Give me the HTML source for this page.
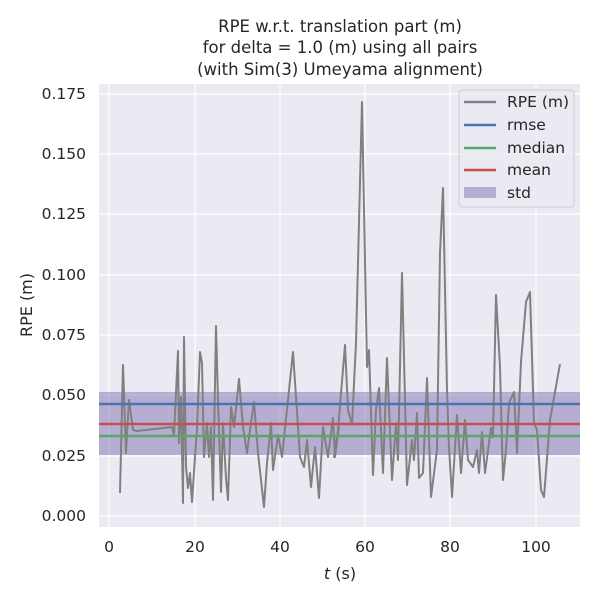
<!DOCTYPE html>
<html><head><style>body{margin:0;background:#fff}</style></head><body>
<svg width="600" height="600" xmlns="http://www.w3.org/2000/svg" font-family="DejaVu Sans, Liberation Sans, sans-serif">
<rect x="99" y="84" width="481" height="443" fill="#EAEAF2"/>
<g stroke="#fff" stroke-width="1.2">
<line x1="109" y1="84" x2="109" y2="527"/><line x1="195" y1="84" x2="195" y2="527"/><line x1="280" y1="84" x2="280" y2="527"/><line x1="365" y1="84" x2="365" y2="527"/><line x1="450" y1="84" x2="450" y2="527"/><line x1="536" y1="84" x2="536" y2="527"/>
<line x1="99" y1="516" x2="580" y2="516"/><line x1="99" y1="456" x2="580" y2="456"/><line x1="99" y1="395" x2="580" y2="395"/><line x1="99" y1="335" x2="580" y2="335"/><line x1="99" y1="275" x2="580" y2="275"/><line x1="99" y1="214" x2="580" y2="214"/><line x1="99" y1="154" x2="580" y2="154"/><line x1="99" y1="94" x2="580" y2="94"/>
</g>
<rect x="99" y="392" width="481" height="63" fill="#8172B2" fill-opacity="0.5"/>
<polyline fill="none" stroke="#808080" stroke-width="2" stroke-linejoin="round" points="120,493 123,365 126,453 129,400 133,430 137,431 172,427 174,435 178,351 179,443 181,397 183,503 184,337 186,467 188,488 190,473 192,502 197,427 200,352 202,363 204,457 207,423 209,457 211,427 213,500 216,326 218,400 221,492 223,423 226,478 228,500 231,407 234,427 239,379 243,427 247,453 250,430 254,402 258,453 264,507 267,463 271,423 273,470 278,435 282,457 293,352 300,457 304,467 307,440 311,487 315,447 319,498 323,427 328,457 333,418 335,457 339,427 334,457 338,430 345,345 348,410 352,425 356,343 362,102 367,367 369,350 373,475 376,410 379,388 383,473 387,358 392,480 396,423 398,460 402,273 407,485 412,440 414,460 417,413 419,478 423,473 427,378 431,497 437,450 440,253 443,188 447,390 449,447 452,497 457,415 461,473 465,420 468,460 473,467 477,450 479,473 482,432 485,473 491,428 493,437 496,295 500,367 503,480 506,450 509,403 514,392 517,453 521,362 526,302 530,292 534,423 537,430 541,490 544,497 550,420 560,364"/>
<line x1="99" y1="404" x2="580" y2="404" stroke="#4C72B0" stroke-width="2.5"/>
<line x1="99" y1="424" x2="580" y2="424" stroke="#C44E52" stroke-width="2.5"/>
<line x1="99" y1="436" x2="580" y2="436" stroke="#55A868" stroke-width="2.5"/>
<rect x="459" y="90" width="115" height="117" rx="3" fill="#EAEAF2" fill-opacity="0.8" stroke="#ccc"/>
<g stroke-width="2.5"><line x1="464" y1="102" x2="496" y2="102" stroke="#808080"/><line x1="464" y1="125" x2="496" y2="125" stroke="#4C72B0"/><line x1="464" y1="148" x2="496" y2="148" stroke="#55A868"/><line x1="464" y1="170" x2="496" y2="170" stroke="#C44E52"/></g>
<rect x="464" y="187" width="32" height="11" fill="#8172B2" fill-opacity="0.5"/>
<g font-size="15.5" fill="#262626"><text x="507" y="107">RPE (m)</text><text x="507" y="130">rmse</text><text x="507" y="153">median</text><text x="507" y="175">mean</text><text x="507" y="198">std</text></g>
<g font-size="15.5" fill="#262626" text-anchor="end">
<text x="86" y="521">0.000</text><text x="86" y="461">0.025</text><text x="86" y="400">0.050</text><text x="86" y="340">0.075</text><text x="86" y="280">0.100</text><text x="86" y="219">0.125</text><text x="86" y="159">0.150</text><text x="86" y="99">0.175</text></g>
<g font-size="15.5" fill="#262626" text-anchor="middle">
<text x="109" y="552">0</text><text x="195" y="552">20</text><text x="280" y="552">40</text><text x="365" y="552">60</text><text x="450" y="552">80</text><text x="536" y="552">100</text>
<text x="340" y="579" font-size="16"><tspan font-style="italic">t</tspan> (s)</text>
<text x="340" y="32" font-size="16.5">RPE w.r.t. translation part (m)</text>
<text x="340" y="53" font-size="16.5">for delta = 1.0 (m) using all pairs</text>
<text x="340" y="75" font-size="16.5">(with Sim(3) Umeyama alignment)</text>
</g>
<text transform="translate(32,305) rotate(-90)" font-size="16" fill="#262626" text-anchor="middle">RPE (m)</text>
</svg>
</body></html>
